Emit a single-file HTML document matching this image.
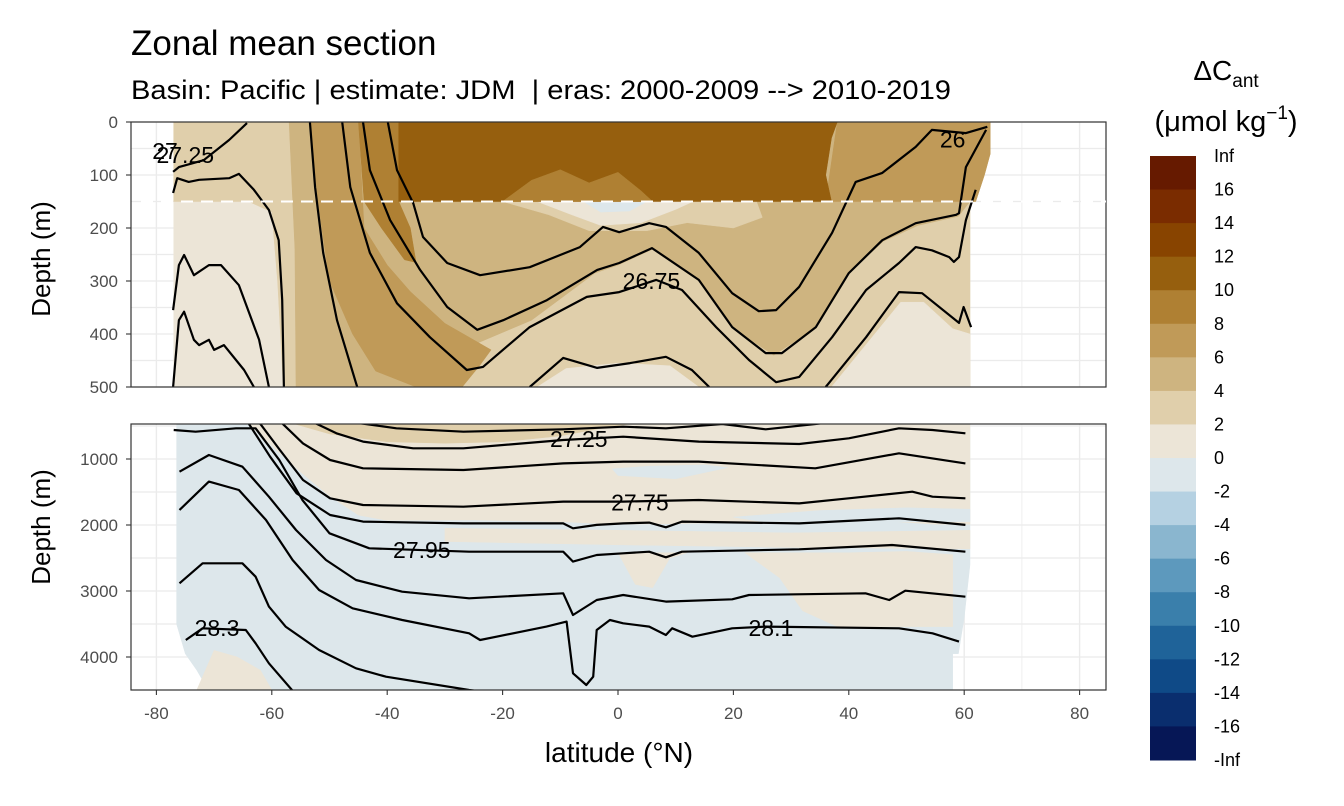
<!DOCTYPE html>
<html><head><meta charset="utf-8"><style>
html,body{margin:0;padding:0;background:#fff;}
svg{display:block;font-family:"Liberation Sans",sans-serif;}
</style></head><body>
<svg id="chart" width="1344" height="806" viewBox="0 0 1344 806" xmlns="http://www.w3.org/2000/svg">
<defs>
<clipPath id="clipTop"><rect x="131" y="122" width="975" height="265"/></clipPath>
<clipPath id="clipBot"><rect x="131" y="424" width="975" height="266"/></clipPath>
</defs>
<rect x="0" y="0" width="1344" height="806" fill="#fff"/>
<text x="131" y="55" font-size="35" fill="#000">Zonal mean section</text>
<text x="131" y="99" font-size="27" textLength="820" lengthAdjust="spacingAndGlyphs" fill="#000" xml:space="preserve">Basin: Pacific | estimate: JDM  | eras: 2000-2009 --&gt; 2010-2019</text>
<g id="gTopGrid"></g><g id="gBotGrid"></g>
<g id="gTopData" clip-path="url(#clipTop)"></g>
<g id="gBotData" clip-path="url(#clipBot)"></g>
<rect x="131" y="122" width="975" height="265" fill="none" stroke="#333" stroke-width="1.2"/>
<rect x="131" y="424" width="975" height="266" fill="none" stroke="#333" stroke-width="1.2"/>
<g id="gAxes"></g>
<text transform="translate(50,259) rotate(-90)" text-anchor="middle" font-size="26">Depth (m)</text>
<text transform="translate(50,527) rotate(-90)" text-anchor="middle" font-size="26">Depth (m)</text>
<text x="619" y="762" text-anchor="middle" font-size="28">latitude (°N)</text>
<text x="1226" y="80" text-anchor="middle" font-size="28">ΔC<tspan font-size="19" dy="7">ant</tspan></text>
<text x="1226" y="131" text-anchor="middle" font-size="29">(μmol kg<tspan font-size="19" dy="-12">−1</tspan><tspan dy="12">)</tspan></text>
<g id="gLegend"></g>
</svg>
<script>
// ---- colour scale ----
const cbLabels = ["Inf","16","14","12","10","8","6","4","2","0","-2","-4","-6","-8","-10","-12","-14","-16","-Inf"];
const cbColors = ["#661a00","#7a2c00","#884400","#965f0e","#af8033","#c09a58","#ceb480","#e0cfab","#ece5d7","#dde7eb","#b5d1e2","#8ab6cf","#5d99bd","#3a7fab","#1f6399","#0f4a87","#0a2e6e","#061756"];
const xTicks = [-80,-60,-40,-20,0,20,40,60,80];
const topYTicks = [0,100,200,300,400,500];
const botYTicks = [1000,2000,3000,4000];

// ---- top panel filled regions (lat, depth) ----
const ftBaseLat = [-77,64.5,64.5,63.5,62,61,61,-77];
const ftBaseDep = [0,0,60,100,150,150,500,500];
const ft2Lat = [-77,64.5,64.5,63.5,62,61,61,-58,-59,-60,-64,-77];
const ft2Dep = [0,0,60,100,150,150,500,500,300,170,150,150];
const ft4Lat = [-57,-56,-55.8,-30,-25,-15,-4,0,6,14,20,27,34,40,46,52,59,61,64.5,64.5];
const ft4Dep = [0,240,500,500,420,374,285,270,240,300,390,440,390,285,225,195,178,150,60,0];
const ft2bLat = [-20,-12,-5,5,12,20,25,24];
const ft2bDep = [150,175,205,205,190,200,180,150];
const ft0aLat = [-14,-9,0,9,14];
const ft0aDep = [500,465,455,460,500];
const ft0bLat = [37,43,49,53,58,61,61];
const ft0bDep = [500,420,340,340,390,400,500];
const ft0cLat = [-14,-8,-3,4,10,13];
const ft0cDep = [150,175,195,190,165,150];
const ftBlueLat = [-6,-3,2,5];
const ftBlueDep = [150,170,168,150];
const ft6Lat = [-53.4,-52,-50,-46,-42,-35,-27,-24,-22,-30,-36,-40,-44,-45];
const ft6Dep = [0,150,300,400,470,500,500,460,430,380,320,270,200,0];
const ft6bLat = [38,64.5,64.5,63.5,62,36];
const ft6bDep = [0,0,60,100,150,150];
const ft8Lat = [-45,-44,-41,-37,-35,-36,-38,-38];
const ft8Dep = [0,150,200,260,265,200,150,0];
const ft10Lat = [-38,-38,37,36,37,38];
const ft10Dep = [0,150,150,100,30,0];
const ft8bLat = [-20,-15,-10,-5,0,4,6];
const ft8bDep = [150,110,90,115,95,130,150];

// ---- top panel isopycnals ----
const taLat=[-64.3,-67.4,-71.8,-76.1,-77.1], taDep=[2,34,72,85,94];
const tbLat=[-77.1,-76.4,-74.4,-72.6,-67.4,-65.7,-63.1,-60.5,-58.8,-58.2,-57.9], tbDep=[134,106,113,109,106,98,128,166,223,336,500];
const tcLat=[-77.1,-76.1,-75.2,-73.5,-70.9,-68.8,-65.7,-62.2,-60.5], tcDep=[355,270,251,289,270,270,308,411,500];
const tdLat=[-77.1,-76.1,-75.2,-73.5,-72.6,-70.9,-70,-68.3,-64.8,-63.1], tdDep=[500,374,358,411,421,411,430,421,468,500];
const tfLat=[-53.4,-52.5,-51.1,-48.7,-45.2], tfDep=[0,123,247,374,500];
const tjLat=[-47.8,-46.4,-43,-38.3,-32.6,-26.2,-23.4,-15.3,-5.4,0.2,6.6,11.1,17,22.7,27.4,31.4,37.1,43,48.7,51.6,54.4,57.4,58.2,59.1,60.3,62];
const tjDep=[0,123,247,342,406,468,462,387,330,321,298,317,387,449,491,481,406,317,266,236,242,255,264,255,185,128];
const tiLat=[-44.2,-43,-39.5,-34.3,-29.6,-24.4,-19.9,-12.3,-3.6,0.2,5.9,14,19.8,25.6,28.4,34.3,40,45.8,51.6,58.6,59.1,60.3,63.8];
const tiDep=[0,91,185,279,349,392,374,336,279,266,238,298,387,436,436,387,285,223,191,175,172,85,15];
const thLat=[-39.9,-38.3,-35.5,-33.8,-29.6,-23.9,-15.3,-6.6,-2.6,0.2,5.4,8.3,14,19.8,24.4,27.4,31.4,37.1,41.2,45.8,51.6,54.4,60.3,64];
const thDep=[0,91,153,217,266,289,274,236,198,208,191,198,247,323,357,355,311,209,113,96,47,15,21,9];
const tk1Lat=[-15.3,-9.5,-3.6,2.1,8.3,12.8,15.8], tk1Dep=[500,445,464,455,443,468,500];
const tk2Lat=[36,43,48.7,52.7,59.1,59.9,61.2], tk2Dep=[500,406,321,323,379,349,387];

// ---- bottom panel filled regions ----
const fb0Lat=[-76.5,61,61,60,59,58,58,-71,-73,-75,-76.5];
const fb0Dep=[470,470,2600,3400,3950,3950,4500,4500,4200,3950,3500];
const fb1Lat=[-64,61,61,55,40,25,10,0,-10,-25,-40,-45,-50,-55,-60];
const fb1Dep=[470,470,1990,1990,1900,1950,1980,1990,1950,1925,1930,1850,1560,1200,800];
const fb1bLat=[-30,0,30,61,61,30,0,-30];
const fb1bDep=[2050,2080,2120,2080,2360,2340,2300,2250];
const fb1cLat=[22,28,32,38,58,58,50,40,30];
const fb1cDep=[2420,2800,3300,3540,3540,2450,2400,2420,2420];
const fb1dLat=[0,3,6,9,12], fb1dDep=[2420,2900,2950,2500,2420];
const fb1eLat=[-73,-70,-66,-62,-60,-64,-68], fb1eDep=[4500,3900,4000,4200,4500,4500,4500];
const fbBlue1Lat=[-1,5,15,19,10,0], fbBlue1Dep=[1150,1110,1090,1130,1300,1250];
const fbBlue2Lat=[20,35,50,61,61,40,25], fbBlue2Dep=[1880,1780,1740,1760,1950,1950,1950];
const fbTanLat=[-56,-50,-40,-30,-20,-10,-2,2], fbTanDep=[470,620,740,760,740,650,520,470];

// ---- bottom panel isopycnals ----
const b1Lat=[-48.8,-38.4,-26.8,-9.5,0.9,8.3,18.1,25.6,34.2,40], b1Dep=[409,535,586,550,510,535,470,550,470,409];
const b2Lat=[-53.6,-48.8,-44.2,-35.5,-26.8,-9.5,0.9,14,31.4,40,48.7,54.5,60.2], b2Dep=[409,611,737,838,838,712,662,737,773,687,535,561,611];
const b3Lat=[-58.8,-54.6,-49.9,-44.2,-26.8,-9.5,0.9,14,34.2,48.7,60.2], b3Dep=[409,763,1015,1141,1167,1066,1040,1040,1141,914,1066];
const b4Lat=[-62.5,-58.6,-54.6,-49.9,-44.2,-26.8,-9.5,0.9,14,31.4,40,51,54.5,60.2], b4Dep=[409,864,1318,1596,1697,1722,1646,1646,1621,1672,1596,1495,1571,1596];
const b5Lat=[-64.4,-60.3,-55.7,-49.9,-44.2,-26.8,-9.5,-7.8,-3.7,0.9,5.4,8.3,11.1,31.4,48.7,60.2], b5Dep=[409,965,1520,1848,1949,1975,1975,2050,1999,1975,1964,2035,1949,1975,1899,1999];
const b6Lat=[-77,-73.2,-66.2,-62.8,-58.7,-54.7,-50,-43.1,-25.8,-9.5,-7.8,-3.7,0.9,5.4,8.3,11.1,31.4,47.5,60.2], b6Dep=[560,586,535,535,1015,1621,2126,2353,2404,2404,2555,2454,2429,2404,2490,2404,2368,2303,2404];
const b7Lat=[-76,-70.9,-65.1,-60.5,-55.8,-50.6,-45.4,-37.4,-25.8,-9.5,-7.8,-3.7,0.9,8.3,19.8,22.7,42.9,47,49.8,60.2], b7Dep=[1192,939,1116,1571,2076,2530,2833,3010,3111,3035,3363,3136,3060,3161,3126,3060,3035,3136,2995,3086];
const b8Lat=[-76,-70.9,-65.7,-61,-56.4,-51.8,-46,-37.4,-25.8,-23.9,-12.4,-8.9,-7.8,-5.5,-4.3,-3.7,-1.4,0.9,5.4,8.3,9.4,12.9,19.8,25.6,48.7,54.5,59.1], b8Dep=[1773,1343,1470,1924,2530,2985,3262,3439,3641,3742,3540,3464,4247,4424,4298,3591,3439,3490,3540,3666,3565,3692,3565,3540,3565,3641,3767];
const b9Lat=[-76,-72,-65.1,-62.8,-60.5,-57.6,-51.8,-45.4,-40.2,-25.8,-20], b9Dep=[2884,2581,2581,2783,3237,3540,3894,4171,4298,4500,4560];
const b10Lat=[-74.9,-72,-64.5,-62.8,-60.5,-56.4], b10Dep=[3742,3565,3591,3792,4096,4510];

// ---- contour label text & positions (lat, depth) ----
const topLabelText=["27","27.25","26.75","26"], topLabelLat=[-78.5,-75,5.8,58], topLabelDep=[55,62,300,33];
const botLabelText=["27.25","27.75","27.95","28.3","28.1"], botLabelLat=[-6.8,3.8,-34,-69.5,26.5], botLabelDep=[700,1660,2380,3560,3560];

// ---- scales ----
const X0=618, XS=5.77;
function xS(lat){return X0+lat*XS;}
function yT(d){return 122+d*0.53;}
function yB(d){return 459+(d-1000)*0.066;}
const NS="http://www.w3.org/2000/svg";
function mk(tag,attrs,parent){const e=document.createElementNS(NS,tag);for(const k in attrs)e.setAttribute(k,attrs[k]);parent.appendChild(e);return e;}
function pts(lats,deps,yF){return lats.map((l,i)=>xS(l).toFixed(1)+","+yF(deps[i]).toFixed(1)).join(" ");}

// grids
function grid(g,y0,y1,hLines){
  for(let lat=-80;lat<=80;lat+=10){
    const ln=mk("line",{x1:xS(lat),x2:xS(lat),y1:y0,y2:y1,stroke:"#ebebeb","stroke-width":lat%20===0?1.4:0.8},g);
    
    
  }
  hLines.forEach(y=>{
    const ln=mk("line",{x1:131,x2:1106,y1:y,y2:y,stroke:"#ebebeb","stroke-width":1.2},g);
    
    
  });
}
const gTopGrid=document.getElementById("gTopGrid"), gBotGrid=document.getElementById("gBotGrid");
const th=[];for(let d=0;d<=500;d+=50)th.push(yT(d));
grid(gTopGrid,122,387,th);
const bh=[];for(let d=500;d<=4500;d+=500)bh.push(yB(d));
grid(gBotGrid,424,690,bh);

// fills
const gT=document.getElementById("gTopData"), gB=document.getElementById("gBotData");
function fill(g,lats,deps,yF,col,name){
  const p=mk("polygon",{points:pts(lats,deps,yF),fill:col,stroke:col,"stroke-width":0.5},g);
  
  
}
const C2=cbColors[7],C0=cbColors[8],CB=cbColors[9],C4=cbColors[6],C6=cbColors[5],C8=cbColors[4],C10=cbColors[3];
fill(gT,ftBaseLat,ftBaseDep,yT,C0,'fill-top-base');
fill(gT,ft2Lat,ft2Dep,yT,C2,'fill-top-2-4');
fill(gT,ft4Lat,ft4Dep,yT,C4,'fill-top-4-6');
fill(gT,ft2bLat,ft2bDep,yT,C2,'fill-top-2-4-center');
fill(gT,ft0aLat,ft0aDep,yT,C0,'fill-top-0-2-center');
fill(gT,ft0bLat,ft0bDep,yT,C0,'fill-top-0-2-right');
fill(gT,ft0cLat,ft0cDep,yT,C0,'fill-top-0-2-upper');
fill(gT,ftBlueLat,ftBlueDep,yT,CB,'fill-top-negative');
fill(gT,ft6Lat,ft6Dep,yT,C6,'fill-top-6-8');
fill(gT,ft6bLat,ft6bDep,yT,C6,'fill-top-6-8-right');
fill(gT,ft8Lat,ft8Dep,yT,C8,'fill-top-8-10');
fill(gT,ft10Lat,ft10Dep,yT,C10,'fill-top-10-12');
fill(gT,ft8bLat,ft8bDep,yT,C8,'fill-top-8-10-patch');

fill(gB,fb0Lat,fb0Dep,yB,CB,'fill-bottom-negative');
fill(gB,fb1Lat,fb1Dep,yB,C0,'fill-bottom-0-2');
fill(gB,fb1bLat,fb1bDep,yB,C0,'fill-bottom-0-2-band');
fill(gB,fb1cLat,fb1cDep,yB,C0,'fill-bottom-0-2-right');
fill(gB,fb1dLat,fb1dDep,yB,C0,'fill-bottom-0-2-patch');
fill(gB,fb1eLat,fb1eDep,yB,C0,'fill-bottom-0-2-left');
fill(gB,fbBlue1Lat,fbBlue1Dep,yB,CB,'fill-bottom-negative-band1');
fill(gB,fbBlue2Lat,fbBlue2Dep,yB,CB,'fill-bottom-negative-band2');
fill(gB,fbTanLat,fbTanDep,yB,C2,'fill-bottom-2-4');

// dashed line at 150 m
const dl=mk("line",{x1:141,x2:1106,y1:yT(150),y2:yT(150),stroke:"#fff","stroke-width":2,"stroke-dasharray":"12 8"},document.getElementById("chart"));


document.getElementById("chart").insertBefore(dl,document.getElementById("gAxes"));

// contour lines
function line(g,lats,deps,yF){
  const p=mk("polyline",{points:pts(lats,deps,yF),fill:"none",stroke:"#000","stroke-width":2.2,"stroke-linejoin":"round"},g);
  
  
}
[[taLat,taDep],[tbLat,tbDep],[tcLat,tcDep],[tdLat,tdDep],[tfLat,tfDep],[tjLat,tjDep],[tiLat,tiDep],[thLat,thDep],[tk1Lat,tk1Dep],[tk2Lat,tk2Dep]].forEach(a=>line(gT,a[0],a[1],yT));
[[b1Lat,b1Dep],[b2Lat,b2Dep],[b3Lat,b3Dep],[b4Lat,b4Dep],[b5Lat,b5Dep],[b6Lat,b6Dep],[b7Lat,b7Dep],[b8Lat,b8Dep],[b9Lat,b9Dep],[b10Lat,b10Dep]].forEach(a=>line(gB,a[0],a[1],yB));

function label(g,t,lat,d,yF){
  const e=mk("text",{x:xS(lat),y:yF(d)+8,"text-anchor":"middle","font-size":23,fill:"#000"},g);
  e.textContent=t;
  
  
}
const gAx=document.getElementById("gAxes");
topLabelText.forEach((t,i)=>label(gAx,t,topLabelLat[i],topLabelDep[i],yT));
botLabelText.forEach((t,i)=>label(gAx,t,botLabelLat[i],botLabelDep[i],yB));

// axes ticks
function ytick(y,t,name){
  const l=mk("line",{x1:126,x2:131,y1:y,y2:y,stroke:"#333","stroke-width":1.1},gAx);
  
  
  const e=mk("text",{x:118,y:y+6,"text-anchor":"end","font-size":17,fill:"#4d4d4d"},gAx);
  e.textContent=t;
  
  
}
topYTicks.forEach(d=>ytick(yT(d),String(d),'top-y'));
botYTicks.forEach(d=>ytick(yB(d),String(d),'bottom-y'));
xTicks.forEach(lat=>{
  const x=xS(lat);
  const l=mk("line",{x1:x,x2:x,y1:690,y2:695,stroke:"#333","stroke-width":1.1},gAx);
  
  
  const e=mk("text",{x:x,y:719,"text-anchor":"middle","font-size":17,fill:"#4d4d4d"},gAx);
  e.textContent=String(lat);
  
  
});

// legend
const gL=document.getElementById("gLegend");
const LT=156,LB=760,bh2=(LB-LT)/cbColors.length;
cbColors.forEach((c,i)=>{
  const r=mk("rect",{x:1150,y:LT+i*bh2,width:46,height:bh2+0.5,fill:c},gL);
  
  
});
cbLabels.forEach((t,i)=>{
  const e=mk("text",{x:1214,y:LT+i*bh2+6,"font-size":18,fill:"#000"},gL);
  e.textContent=t;
  
  
});
</script>
</body></html>
